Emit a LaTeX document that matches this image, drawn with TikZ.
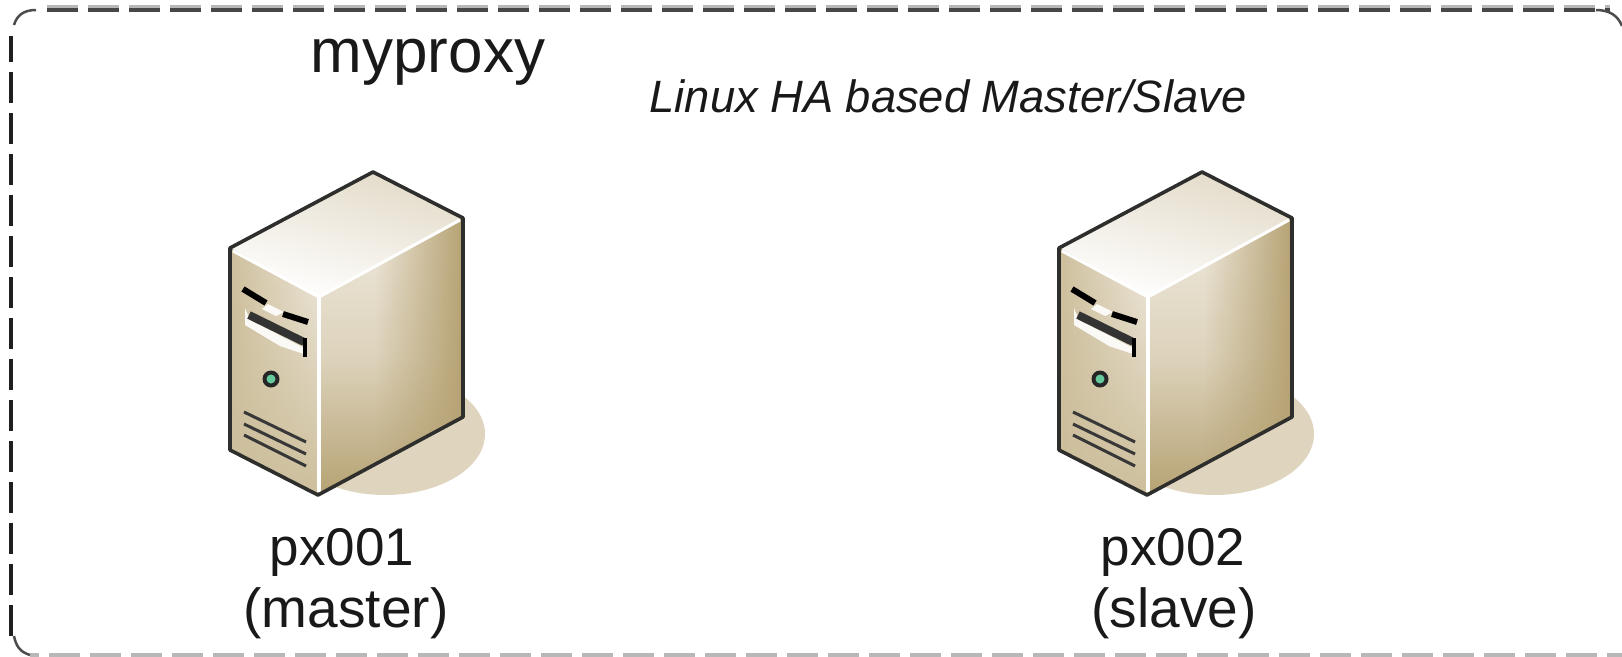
\documentclass[tikz,border=0pt]{standalone}
\usepackage{fontspec}
\setmainfont{Liberation Sans}
\usetikzlibrary{fadings}
\definecolor{edgeC}{HTML}{2E2E2C}
\definecolor{shadowC}{HTML}{DFD5BF}
\definecolor{tanC}{HTML}{B6A273}
\definecolor{midC}{HTML}{DDD3BC}
\definecolor{lightC}{HTML}{EFE9DD}
\definecolor{frontL}{HTML}{CDBF9C}
\definecolor{topC}{HTML}{E3DBC9}
\tikzset{
  outline/.style={draw=edgeC,line width=3.6pt,line join=round},
  frameDash/.style={dash pattern=on 31pt off 10pt},
  label/.style={anchor=base,inner sep=0pt,text=black!90},
  bigtext/.style={label,font=\fontsize{62}{62}\selectfont},
  nametext/.style={label,font=\fontsize{53}{53}\selectfont},
  roletext/.style={label,font=\fontsize{55}{55}\selectfont},
  notetext/.style={label,font=\itshape\fontsize{45.3}{45.3}\selectfont},
}
\newcommand{\serverpic}[1]{%
\begin{scope}[xshift=#1pt]
  % shadow
  \fill[shadowC] (385,434) ellipse [x radius=100,y radius=61];
  % faces
  \fill[top color=topC,bottom color=white,shading angle=-15]
     (373,172) -- (463,218) -- (319,297) -- (230,248) -- cycle;
  \fill[left color=frontL,right color=lightC]
     (230,248) -- (319,297) -- (319,495) -- (230,450) -- cycle;
  \fill[frontL,path fading=north]
     (230,248) -- (319,297) -- (319,495) -- (230,450) -- cycle;
  \fill[top color=lightC,bottom color=tanC,middle color=midC]
     (319,297) -- (463,218) -- (463,417) -- (319,495) -- cycle;
  \fill[tanC,path fading=west]
     (375,266) -- (463,218) -- (463,417) -- (375,465) -- cycle;
  % highlights
  \draw[white,line width=3pt] (233,251) -- (319,297) -- (460,220);
  \draw[white,line width=4pt] (319,297) -- (319,492);
  % drive slots
  \fill[white!90!frontL] (268,304) -- (284,312) -- (276,316) -- (262,309) -- cycle;
  \fill[white!90!frontL] (245,308) -- (250,320) -- (304,348) -- (304,354) -- (280,346) -- (245,325) -- cycle;
  \draw[black,line width=6pt] (243,289) -- (266,303);
  \draw[black,line width=6pt] (283,314) -- (308,322);
  \draw[black!80,line width=8pt] (249,315) -- (304,342);
  \draw[black,line width=3.5pt] (305,338) -- (305,357);
  % lamp
  \fill[black!85] (271,379) circle [radius=8.5];
  \fill[green!30!teal!60!white] (271,379) circle [radius=4.5];
  % vents
  \foreach \yy/\zz in {412/442, 424/454, 435/466}
    \draw[black!78,line width=3pt] (244,\yy) -- (306,\zz);
  % outline
  \draw[outline] (230,450) -- (230,248) -- (373,172) -- (463,218) -- (463,417) -- (318,495) -- cycle;
\end{scope}}
\begin{document}
\begin{tikzpicture}[x=1pt,y=-1pt]
  \clip (0,0) rectangle (1622,656);
  \fill[white] (0,0) rectangle (1622,656);
  % frame
  \draw[black!88,line width=4pt,frameDash,dash phase=5pt] (11,36) -- (11,638);
  \draw[black!28,line width=4pt,frameDash] (47,6.5) -- (1610,6.5);
  \draw[black!72,line width=3.5pt,frameDash] (47,10) -- (1610,10);
  \draw[black!70,line width=2.5pt] (14,25) .. controls (17,15) and (24,10) .. (36,10);
  \draw[black!70,line width=2.5pt] (1596,10) .. controls (1610,10) and (1618,16) .. (1622,26);
  \draw[black!28,line width=4pt,frameDash,dash phase=16pt] (1622,654.5) -- (30,654.5);
  \draw[black!70,line width=2.5pt] (14,636) .. controls (16,646) and (20,652) .. (30,655);
  % servers
  \serverpic{0}
  \serverpic{829}
  % labels
  \node[bigtext] (title) at (428,72) {myproxy};
  \node[notetext] (note) at (948,112) {Linux HA based Master/Slave};
  \node[nametext] (aname) at (342,565) {px001};
  \node[roletext] (arole) at (346,627) {(master)};
  \node[nametext] (bname) at (1173,565) {px002};
  \node[roletext] (brole) at (1174,627) {(slave)};
\end{tikzpicture}
\end{document}
